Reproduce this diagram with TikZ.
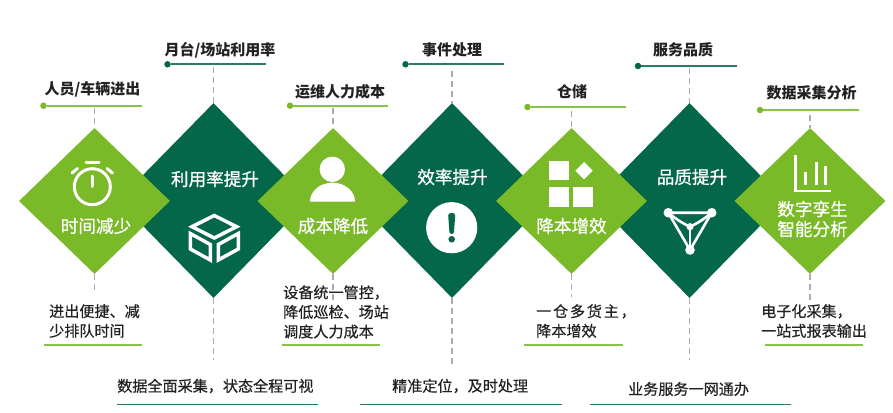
\documentclass[tikz,border=0pt]{standalone}
\usepackage{fontspec}
\usetikzlibrary{shapes.geometric}
\setmainfont{Noto Sans CJK SC}
\newfontfamily\hdfont{Noto Sans CJK SC}
\newfontfamily\bodyfont[FakeBold=0.5]{Noto Sans CJK SC}
\newfontfamily\whfont[FakeBold=0.7]{Noto Sans CJK SC}
\definecolor{lightg}{HTML}{7AB928}
\definecolor{darkg}{HTML}{05674A}
\definecolor{lightrule}{HTML}{86C445}
\definecolor{darkrule}{HTML}{2A7C64}
\definecolor{ink}{HTML}{222222}
\definecolor{dashg}{HTML}{ABABAB}
\tikzset{
  lightd/.style={diamond,fill=lightg,inner sep=0pt,minimum width=151pt,minimum height=146pt},
  darkd/.style={diamond,fill=darkg,inner sep=0pt,minimum width=191pt,minimum height=195pt},
  head/.style={inner sep=0pt,text=ink,font=\hdfont\bfseries\fontsize{15}{18}\selectfont},
  body/.style={inner sep=0pt,text=ink,align=left,anchor=west,font=\bodyfont\fontsize{15.1}{19.6}\selectfont},
  wh/.style={inner sep=0pt,text=white,align=center,font=\whfont\fontsize{17.6}{20}\selectfont},
  dotl/.style={circle,fill=lightg,inner sep=0pt,minimum size=6.5pt},
  dotd/.style={circle,fill=darkg,inner sep=0pt,minimum size=6.5pt},
  rulel/.style={draw=lightrule,line width=1.9pt},
  ruled/.style={draw=darkrule,line width=1.9pt},
  dashline/.style={draw=dashg,line width=1.3pt,dash pattern=on 6pt off 4pt},
  icon/.style={draw=white,line width=3pt},
  iconf/.style={fill=white},
}
\begin{document}
\begin{tikzpicture}[x=1pt,y=-1pt]
\useasboundingbox (0,0) rectangle (893,412);
% diamonds
\node[darkd] (d2) at (213.5,200.5) {};
\node[darkd] (d4) at (452,200.5) {};
\node[darkd] (d6) at (689.5,200.5) {};
\node[lightd] (d1) at (94.5,201) {};
\node[lightd] (d3) at (333,201) {};
\node[lightd] (d5) at (571.5,201) {};
\node[lightd] (d7) at (810,201) {};
% diamond captions
\node[wh] (c1) at (96,226) {时间减少};
\node[wh] (c2) at (215,179) {利用率提升};
\node[wh] (c3) at (333,226) {成本降低};
\node[wh] (c4) at (452.5,177) {效率提升};
\node[wh] (c5) at (571.5,226) {降本增效};
\node[wh] (c6) at (692,177) {品质提升};
\node[wh] (c7) at (812.5,219) {数字孪生\\智能分析};
% top labels
\node[head] (t1) at (92.5,89) {人员/车辆进出};
\node[head] (t2) at (220,50) {月台/场站利用率};
\node[head] (t3) at (340,92) {运维人力成本};
\node[head] (t4) at (452,50) {事件处理};
\node[head] (t5) at (572,92) {仓储};
\node[head] (t6) at (683,50) {服务品质};
\node[head] (t7) at (811.5,93) {数据采集分析};
% top rules
\node[dotl] (p1) at (43.5,105.7) {}; \coordinate (q1) at (142,105.7);
\node[dotd] (p2) at (167.5,64.3) {}; \coordinate (q2) at (266,64.3);
\node[dotl] (p3) at (290,105.7) {}; \coordinate (q3) at (388,105.7);
\node[dotd] (p4) at (405.5,64.3) {}; \coordinate (q4) at (504,64.3);
\node[dotl] (p5) at (527.5,107) {}; \coordinate (q5) at (625.5,107);
\node[dotd] (p6) at (638,66) {}; \coordinate (q6) at (736.5,66);
\node[dotl] (p7) at (760,110) {}; \coordinate (q7) at (858.5,110);
\draw[rulel] (p1) -- (q1);
\draw[ruled] (p2) -- (q2);
\draw[rulel] (p3) -- (q3);
\draw[ruled] (p4) -- (q4);
\draw[rulel] (p5) -- (q5);
\draw[ruled] (p6) -- (q6);
\draw[rulel] (p7) -- (q7);
% top dashes
\coordinate (u1) at (94.5,108); \coordinate (u2) at (213.5,67);
\coordinate (u3) at (333,108); \coordinate (u4) at (452,71);
\coordinate (u5) at (571.5,111); \coordinate (u6) at (689.5,68);
\coordinate (u7) at (810,115);
\draw[dashline] (u1) -- (d1.north);
\draw[dashline] (u2) -- (d2.north);
\draw[dashline] (u3) -- (d3.north);
\draw[dashline] (u4) -- (d4.north);
\draw[dashline] (u5) -- (d5.north);
\draw[dashline] (u6) -- (d6.north);
\draw[dashline] (u7) -- (d7.north);
% bottom dashes
\coordinate (v1) at (94.5,293); \coordinate (v2) at (213.5,360);
\coordinate (v3) at (333,300); \coordinate (v4) at (452,364);
\coordinate (v5) at (571.5,297); \coordinate (v6) at (689.5,360);
\coordinate (v7) at (810,301);
\draw[dashline] (d1.south) -- (v1);
\draw[dashline] (d2.south) -- (v2);
\draw[dashline] (d3.south) -- (v3);
\draw[dashline] (d4.south) -- (v4);
\draw[dashline] (d5.south) -- (v5);
\draw[dashline] (d6.south) -- (v6);
\draw[dashline] (d7.south) -- (v7);
% bottom text
\node[body] (b1) at (49,321) {进出便捷、减\\少排队时间};
\node[body] (b2) at (117,386) {数据全面采集，状态全程可视};
\node[body] (b3) at (283,312) {设备统一管控，\\降低巡检、场站\\调度人力成本};
\node[body] (b4) at (392,386) {精准定位，及时处理};
\node[body] (b5) at (536,321) {一\kern1.8pt 仓\kern1.8pt 多\kern1.8pt 货\kern1.8pt 主\kern1.8pt ，\\降本增效};
\node[body] (b6) at (628,389) {业务服务一网通办};
\node[body] (b7) at (761,321) {电子化采集，\\一站式报表输出};
% bottom rules
\coordinate (r1a) at (44,345.3); \coordinate (r1b) at (142,345.3);
\coordinate (r2a) at (116.5,404.5); \coordinate (r2b) at (318,404.5);
\coordinate (r3a) at (281.5,345.3); \coordinate (r3b) at (380,345.3);
\coordinate (r4a) at (360,404.5); \coordinate (r4b) at (561.5,404.5);
\coordinate (r5a) at (524,345.3); \coordinate (r5b) at (622.5,345.3);
\coordinate (r6a) at (590,404.5); \coordinate (r6b) at (791,404.5);
\coordinate (r7a) at (765,345.3); \coordinate (r7b) at (863,345.3);
\draw[rulel] (r1a) -- (r1b);
\draw[ruled] (r2a) -- (r2b);
\draw[rulel] (r3a) -- (r3b);
\draw[ruled] (r4a) -- (r4b);
\draw[rulel] (r5a) -- (r5b);
\draw[ruled] (r6a) -- (r6b);
\draw[rulel] (r7a) -- (r7b);
% stopwatch
\draw[icon] (92.3,186.7) circle (18);
\draw[icon,line cap=round] (86,162.7) -- (99,162.7);
\draw[icon,line cap=round] (72,173) -- (77.5,168.5);
\draw[icon,line cap=round] (112.5,173) -- (107,168.5);
\draw[icon,line width=3.6pt,line cap=round] (92.3,176.5) -- (92.3,186);
% cube
\draw[icon,line width=3.5pt] (214.3,215.5) -- (236.5,226.7) -- (214.3,238) -- (192,226.7) -- cycle;
\draw[icon,line width=3.5pt] (190.3,233.5) -- (210.3,244.5) -- (210.3,260) -- (190.3,249) -- cycle;
\draw[icon,line width=3.5pt] (238.3,233.5) -- (218.3,244.5) -- (218.3,260) -- (238.3,249) -- cycle;
% person
\fill[iconf] (332.3,169.3) circle (12.7);
\fill[iconf] (310,201.7) .. controls (310,191) and (320,182.7) .. (332.5,182.7) .. controls (345,182.7) and (355,191) .. (355,201.7) -- cycle;
% alert
\fill[iconf] (451.7,227.7) circle (25.6);
\fill[darkg] (448.2,215.5) .. controls (448.2,212) and (455.2,212) .. (455.2,215.5) -- (454,232) .. controls (453.8,234.5) and (449.6,234.5) .. (449.4,232) -- cycle;
\fill[darkg] (451.7,239.3) circle (3.3);
% squares
\fill[iconf] (549.3,160.7) rectangle (569,180);
\fill[iconf] (584,162) -- (592.7,170.7) -- (584,179.4) -- (575.3,170.7) -- cycle;
\fill[iconf] (549.3,187.3) rectangle (569,206.7);
\fill[iconf] (573.3,187.3) rectangle (592.7,206.7);
% network
\draw[draw=white,line width=2.6pt,line join=round] (668.3,212.7) -- (711.7,212.7) -- (690,250) -- cycle;
\draw[draw=white,line width=2.6pt] (668.3,212.7) .. controls (677,220) and (684,224) .. (690,226.7) .. controls (696,224) and (703,220) .. (711.7,212.7);
\draw[draw=white,line width=2.6pt] (690,226.7) -- (690,250);
\fill[iconf] (668.3,212.7) circle (4.8);
\fill[iconf] (711.7,212.7) circle (4.8);
\fill[iconf] (690,250) circle (4.8);
\fill[iconf] (690,226.7) circle (3.6);
% chart
\draw[icon,line width=2.6pt] (795.2,155) -- (795.2,191) -- (831,191);
\draw[icon] (805,171.7) -- (805,185);
\draw[icon] (816,161.7) -- (816,185);
\draw[icon] (825.7,166) -- (825.7,185);
\end{tikzpicture}
\end{document}
